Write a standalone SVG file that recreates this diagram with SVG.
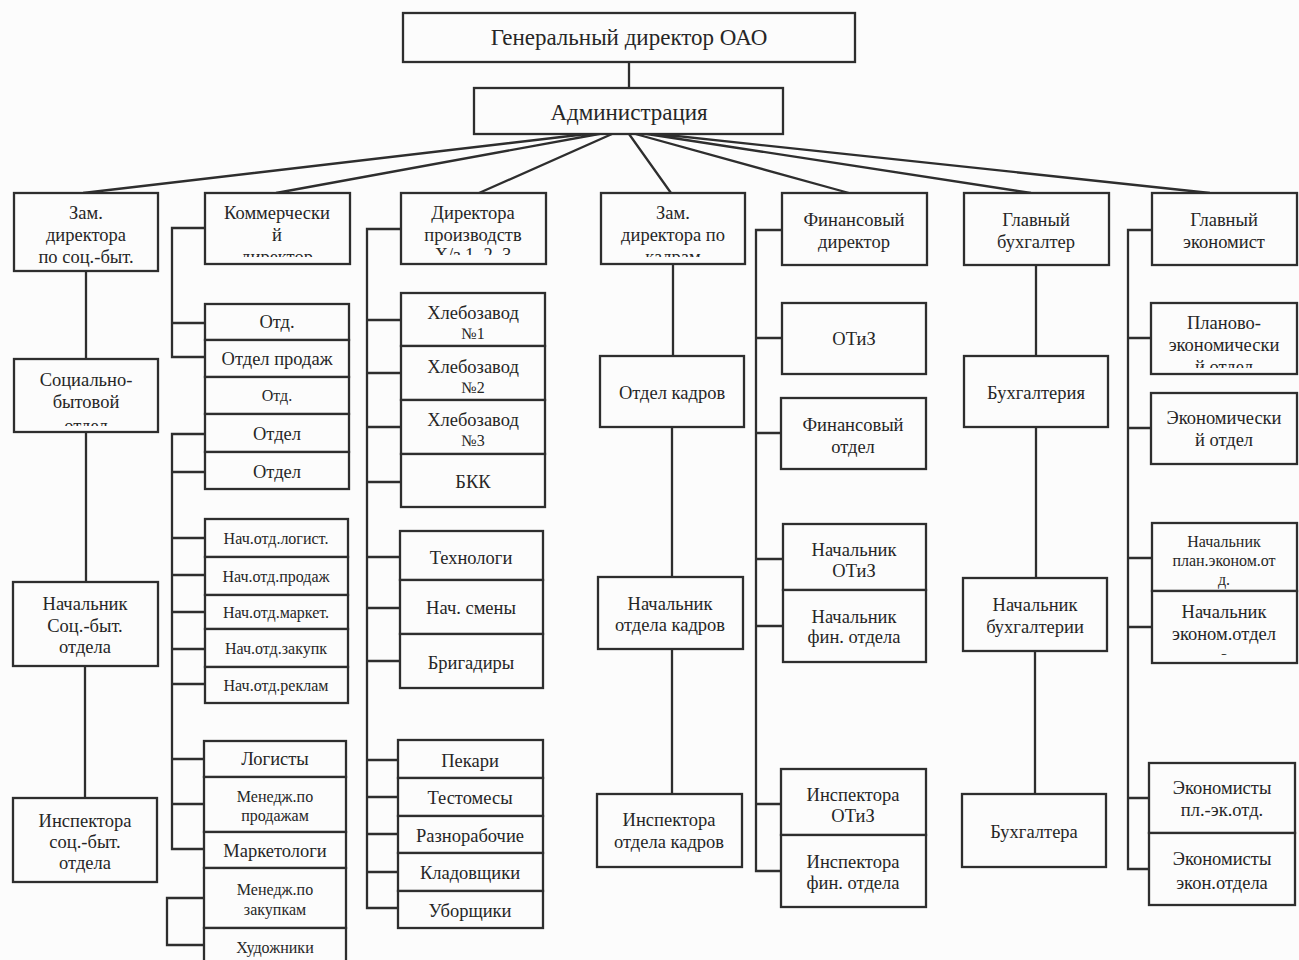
<svg xmlns="http://www.w3.org/2000/svg" width="1299" height="960" viewBox="0 0 1299 960">
<style>
.b{fill:#fcfcfc;stroke:#2e2e2e;stroke-width:2.3}
.c{fill:none;stroke:#2e2e2e;stroke-width:2.3}
text{font-family:"Liberation Serif","Times New Roman",serif;font-size:18.5px;fill:#262626;text-anchor:middle}
.s{font-size:16px}
.l{font-size:23px}
</style>
<defs>
<clipPath id="k2"><rect x="205" y="193" width="145" height="64"/></clipPath>
<clipPath id="k3"><rect x="401" y="193" width="145" height="62"/></clipPath>
<clipPath id="k4"><rect x="601" y="193" width="144" height="64"/></clipPath>
<clipPath id="k5"><rect x="14" y="359" width="144" height="67"/></clipPath>
<clipPath id="k6"><rect x="1151" y="303" width="146" height="65"/></clipPath>
<clipPath id="k7"><rect x="1154" y="591" width="141" height="64"/></clipPath>
</defs>
<rect width="1299" height="960" fill="#fcfcfc"/>
<g id="connectors">
<path class="c" d="M629,62V88"/>
<path class="c" d="M621,130L83,193M621,130L276,193M621,130L479,193M629,134L671,193M621,130L849,193M621,130L1031,193M621,130L1210,193"/>
<path class="c" d="M86,271V359M86,432V582M85,666V798"/>
<path class="c" d="M205,228H172V357H205M172,323H205"/>
<path class="c" d="M205,434H172V849H205M172,472H205M172,538H205M172,575H205M172,612H205M172,649H205M172,684H205M172,759H204M172,804H204"/>
<path class="c" d="M204,898H167V945H204"/>
<path class="c" d="M401,229H367V908H398M367,320H401M367,373H401M367,427H401M367,482H401M367,557H400M367,608H400M367,661H400M367,760H398M367,797H398M367,834H398M367,872H398"/>
<path class="c" d="M673,264V356M672,427V577M672,649V794"/>
<path class="c" d="M782,230H756V871H781M756,338H782M756,433H781M756,559H783M756,626H783M756,804H781"/>
<path class="c" d="M1036,265V356M1036,427V578M1035,651V794"/>
<path class="c" d="M1152,230H1128V869H1149M1128,338H1151M1128,428H1151M1128,558H1152M1128,627H1152M1128,798H1149"/>
</g>
<g id="gen"><rect class="b" x="403" y="13" width="452" height="49"/><text class="l" x="629" y="45">Генеральный директор ОАО</text></g>
<g id="admin"><rect class="b" x="474" y="88" width="309" height="46"/><text class="l" x="629" y="120">Администрация</text></g>

<g id="zam-soc"><rect class="b" x="14" y="193" width="144" height="78"/><text x="86" y="219">Зам.</text><text x="86" y="241">директора</text><text x="86" y="263">по соц.-быт.</text></g>
<g id="kom-dir"><rect class="b" x="205" y="193" width="145" height="71"/><g clip-path="url(#k2)"><text x="277" y="219">Коммерчески</text><text x="277" y="241">й</text><text x="277" y="263">директор</text></g></g>
<g id="dir-proizv"><rect class="b" x="401" y="193" width="145" height="71"/><g clip-path="url(#k3)"><text x="473" y="219">Директора</text><text x="473" y="241">производств</text><text x="473" y="261">Х/з 1, 2, 3</text></g></g>
<g id="zam-kadr"><rect class="b" x="601" y="193" width="144" height="71"/><g clip-path="url(#k4)"><text x="673" y="219">Зам.</text><text x="673" y="241">директора по</text><text x="673" y="263">кадрам</text></g></g>
<g id="fin-dir"><rect class="b" x="782" y="193" width="145" height="72"/><text x="854" y="226">Финансовый</text><text x="854" y="248">директор</text></g>
<g id="gl-buh"><rect class="b" x="964" y="193" width="145" height="72"/><text x="1036" y="226">Главный</text><text x="1036" y="248">бухгалтер</text></g>
<g id="gl-ekon"><rect class="b" x="1152" y="193" width="145" height="72"/><text x="1224" y="226">Главный</text><text x="1224" y="248">экономист</text></g>

<g id="soc-otdel"><rect class="b" x="14" y="359" width="144" height="73"/><g clip-path="url(#k5)"><text x="86" y="386">Социально-</text><text x="86" y="408">бытовой</text><text x="86" y="432">отдел</text></g></g>
<g id="nach-soc"><rect class="b" x="13" y="582" width="145" height="84"/><text x="85" y="610">Начальник</text><text x="85" y="632">Соц.-быт.</text><text x="85" y="653">отдела</text></g>
<g id="insp-soc"><rect class="b" x="13" y="798" width="144" height="84"/><text x="85" y="827">Инспектора</text><text x="85" y="848">соц.-быт.</text><text x="85" y="869">отдела</text></g>

<g id="otd1"><rect class="b" x="205" y="304" width="144" height="36"/><text x="277" y="328">Отд.</text></g>
<g id="otd-prod"><rect class="b" x="205" y="340" width="144" height="37"/><text x="277" y="365">Отдел продаж</text></g>
<g id="otd2"><rect class="b" x="205" y="377" width="144" height="37"/><text class="s" x="277" y="401">Отд.</text></g>
<g id="otdel1"><rect class="b" x="205" y="414" width="144" height="38"/><text x="277" y="440">Отдел</text></g>
<g id="otdel2"><rect class="b" x="205" y="452" width="144" height="37"/><text x="277" y="478">Отдел</text></g>

<g id="nach-log"><rect class="b" x="205" y="519" width="143" height="38"/><text class="s" x="276" y="544">Нач.отд.логист.</text></g>
<g id="nach-prod"><rect class="b" x="205" y="557" width="143" height="38"/><text class="s" x="276" y="582">Нач.отд.продаж</text></g>
<g id="nach-mark"><rect class="b" x="205" y="595" width="143" height="34"/><text class="s" x="276" y="618">Нач.отд.маркет.</text></g>
<g id="nach-zak"><rect class="b" x="205" y="629" width="143" height="38"/><text class="s" x="276" y="654">Нач.отд.закупк</text></g>
<g id="nach-rekl"><rect class="b" x="205" y="667" width="143" height="36"/><text class="s" x="276" y="691">Нач.отд.реклам</text></g>

<g id="logist"><rect class="b" x="204" y="741" width="142" height="36"/><text x="275" y="765">Логисты</text></g>
<g id="men-prod"><rect class="b" x="204" y="777" width="142" height="55"/><text class="s" x="275" y="802">Менедж.по</text><text class="s" x="275" y="821">продажам</text></g>
<g id="market"><rect class="b" x="204" y="832" width="142" height="36"/><text x="275" y="857">Маркетологи</text></g>
<g id="men-zak"><rect class="b" x="204" y="868" width="142" height="60"/><text class="s" x="275" y="895">Менедж.по</text><text class="s" x="275" y="915">закупкам</text></g>
<g id="hud"><rect class="b" x="204" y="928" width="142" height="44"/><text class="s" x="275" y="953">Художники</text></g>

<g id="hz1"><rect class="b" x="401" y="293" width="144" height="53"/><text x="473" y="319">Хлебозавод</text><text class="s" x="473" y="339">№1</text></g>
<g id="hz2"><rect class="b" x="401" y="346" width="144" height="54"/><text x="473" y="373">Хлебозавод</text><text class="s" x="473" y="393">№2</text></g>
<g id="hz3"><rect class="b" x="401" y="400" width="144" height="54"/><text x="473" y="426">Хлебозавод</text><text class="s" x="473" y="446">№3</text></g>
<g id="bkk"><rect class="b" x="401" y="454" width="144" height="53"/><text x="473" y="488">БКК</text></g>

<g id="tehn"><rect class="b" x="400" y="531" width="143" height="49"/><text x="471" y="564">Технологи</text></g>
<g id="nach-smen"><rect class="b" x="400" y="580" width="143" height="54"/><text x="471" y="614">Нач. смены</text></g>
<g id="brig"><rect class="b" x="400" y="634" width="143" height="54"/><text x="471" y="669">Бригадиры</text></g>

<g id="pekari"><rect class="b" x="398" y="740" width="145" height="38"/><text x="470" y="767">Пекари</text></g>
<g id="testo"><rect class="b" x="398" y="778" width="145" height="38"/><text x="470" y="804">Тестомесы</text></g>
<g id="razno"><rect class="b" x="398" y="816" width="145" height="37"/><text x="470" y="842">Разнорабочие</text></g>
<g id="klad"><rect class="b" x="398" y="853" width="145" height="38"/><text x="470" y="879">Кладовщики</text></g>
<g id="ubor"><rect class="b" x="398" y="891" width="145" height="37"/><text x="470" y="917">Уборщики</text></g>

<g id="otd-kadr"><rect class="b" x="600" y="356" width="144" height="71"/><text x="672" y="399">Отдел кадров</text></g>
<g id="nach-kadr"><rect class="b" x="598" y="577" width="145" height="72"/><text x="670" y="610">Начальник</text><text x="670" y="631">отдела кадров</text></g>
<g id="insp-kadr"><rect class="b" x="597" y="794" width="145" height="73"/><text x="669" y="826">Инспектора</text><text x="669" y="848">отдела кадров</text></g>

<g id="otiz"><rect class="b" x="782" y="303" width="144" height="71"/><text x="854" y="345">ОТиЗ</text></g>
<g id="fin-otd"><rect class="b" x="781" y="398" width="145" height="71"/><text x="853" y="431">Финансовый</text><text x="853" y="453">отдел</text></g>
<g id="nach-otiz"><rect class="b" x="783" y="524" width="143" height="66"/><text x="854" y="556">Начальник</text><text x="854" y="577">ОТиЗ</text></g>
<g id="nach-fin"><rect class="b" x="783" y="590" width="143" height="72"/><text x="854" y="623">Начальник</text><text x="854" y="643">фин. отдела</text></g>
<g id="insp-otiz"><rect class="b" x="781" y="769" width="145" height="66"/><text x="853" y="801">Инспектора</text><text x="853" y="822">ОТиЗ</text></g>
<g id="insp-fin"><rect class="b" x="781" y="835" width="145" height="72"/><text x="853" y="868">Инспектора</text><text x="853" y="889">фин. отдела</text></g>

<g id="buh"><rect class="b" x="964" y="356" width="144" height="71"/><text x="1036" y="399">Бухгалтерия</text></g>
<g id="nach-buh"><rect class="b" x="963" y="578" width="144" height="73"/><text x="1035" y="611">Начальник</text><text x="1035" y="633">бухгалтерии</text></g>
<g id="buhs"><rect class="b" x="962" y="794" width="144" height="73"/><text x="1034" y="838">Бухгалтера</text></g>

<g id="pl-ek-otd"><rect class="b" x="1151" y="303" width="146" height="71"/><g clip-path="url(#k6)"><text x="1224" y="329">Планово-</text><text x="1224" y="351">экономически</text><text x="1224" y="373">й отдел</text></g></g>
<g id="ek-otd"><rect class="b" x="1151" y="393" width="146" height="71"/><text x="1224" y="424">Экономически</text><text x="1224" y="446">й отдел</text></g>
<g id="nach-pl"><rect class="b" x="1152" y="523" width="145" height="68"/><text class="s" x="1224" y="547">Начальник</text><text class="s" x="1224" y="566">план.эконом.от</text><text class="s" x="1224" y="585">д.</text></g>
<g id="nach-ek"><rect class="b" x="1152" y="591" width="145" height="72"/><g clip-path="url(#k7)"><text x="1224" y="618">Начальник</text><text x="1224" y="640">эконом.отдел</text><text x="1224" y="663">а</text></g></g>
<g id="ekon-pl"><rect class="b" x="1149" y="763" width="146" height="70"/><text x="1222" y="794">Экономисты</text><text x="1222" y="816">пл.-эк.отд.</text></g>
<g id="ekon-ek"><rect class="b" x="1149" y="833" width="146" height="72"/><text x="1222" y="865">Экономисты</text><text x="1222" y="889">экон.отдела</text></g>
</svg>
